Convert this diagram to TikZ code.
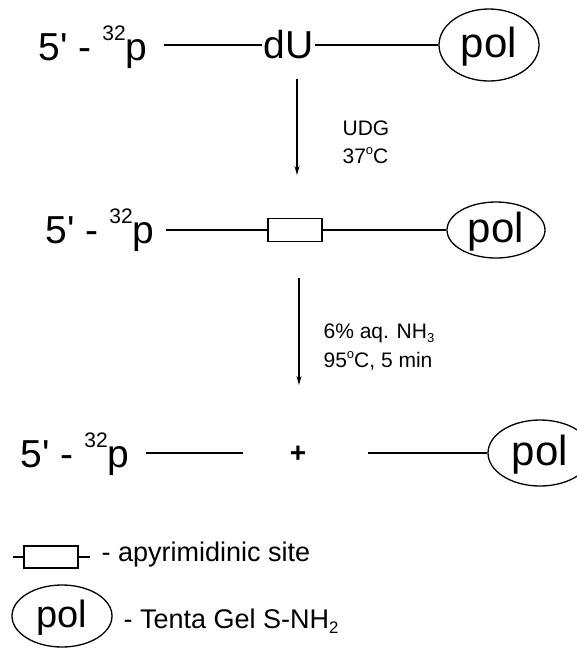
\documentclass[tikz,border=0pt]{standalone}
\usepackage{fontspec}
\setmainfont{Liberation Sans}
\usetikzlibrary{arrows.meta,shapes.geometric}
\newcommand\fs[1]{\fontsize{#1}{#1}\selectfont}
\newcommand\upr[1]{\raisebox{0.5em}{\fontsize{21}{21}\selectfont #1}}
\newcommand\dnr[1]{\raisebox{-0.22em}{\scalebox{0.62}{#1}}}
\newcommand\degr{\raisebox{0.42em}{\scalebox{0.62}{o}}}
\newcommand\pfive{5\textquotesingle{} - \upr{32}p}
\begin{document}
\begin{tikzpicture}[x=1pt,y=-1pt,line width=1.2pt,
  lbl/.style={font=\fs{39},inner sep=0pt,anchor=base west},
  cond/.style={font=\fs{21},inner sep=0pt,anchor=base west},
  keytext/.style={font=\fs{27},inner sep=0pt,anchor=base west},
  bead/.style={draw,ellipse,inner sep=0pt,font=\fs{42},line width=1.3pt,
    text height=30pt,text depth=5pt},
  gapbox/.style={draw,rectangle,minimum width=54pt,minimum height=23pt,inner sep=0pt},
  rxn/.style={-{Stealth[length=9pt,width=5pt]},line width=1.2pt}]
\useasboundingbox (0,0) rectangle (576,648);

% substrate with dU
\node[lbl] (t1) at (38,60) {\pfive};
\coordinate (l1a) at (164,45);
\node[font=\fs{39},inner sep=1pt] (dU) at (288.5,45) {dU};
\node[bead,minimum width=100pt,minimum height=72pt] (e1) at (489,45) {pol};
\draw (l1a) -- (dU);
\draw (dU) -- (e1);

% UDG step
\coordinate (r1s) at (297,79);
\coordinate (r1e) at (297,175);
\draw[rxn] (r1s) -- (r1e);
\node[cond] (c1a) at (342,135) {UDG};
\node[cond] (c1b) at (342,163) {37\degr C};

% abasic intermediate
\node[lbl] (t2) at (45,243) {\pfive};
\coordinate (l2a) at (166,230);
\node[gapbox] (ap) at (295,230) {};
\node[bead,minimum width=98pt,minimum height=56pt] (e2) at (496,230) {pol};
\draw (l2a) -- (ap);
\draw (ap) -- (e2);

% ammonia cleavage step
\coordinate (r2s) at (299,278);
\coordinate (r2e) at (299,385);
\draw[rxn] (r2s) -- (r2e);
\node[cond] (c2a) at (323,338) {6\% aq. NH\dnr{3}};
\node[cond] (c2b) at (323,367) {95\degr C, 5 min};

% cleavage products
\node[lbl] (t3) at (20,467) {\pfive};
\coordinate (l3a) at (146,453);
\coordinate (l3b) at (243,453);
\node[font=\bfseries\fs{28},inner sep=0pt] (plus) at (298,454) {+};
\coordinate (l3c) at (368,453);
\node[bead,minimum width=104pt,minimum height=66pt] (e3) at (540,453) {pol};
\draw (l3a) -- (l3b);
\draw (l3c) -- (e3);

% key
\coordinate (k1) at (13,557);
\node[gapbox,minimum height=22pt] (kgap) at (51,557) {};
\coordinate (k2) at (90,557);
\draw (k1) -- (kgap);
\draw (kgap) -- (k2);
\node[keytext] (klab1) at (101,561) {- apyrimidinic site};
\node[bead,minimum width=100pt,minimum height=62pt,font=\fs{38},
  text height=27pt,text depth=4pt] (kbead) at (62,616) {pol};
\node[keytext] (klab2) at (123,628) {- Tenta Gel S-NH\dnr{2}};
\end{tikzpicture}
\end{document}
